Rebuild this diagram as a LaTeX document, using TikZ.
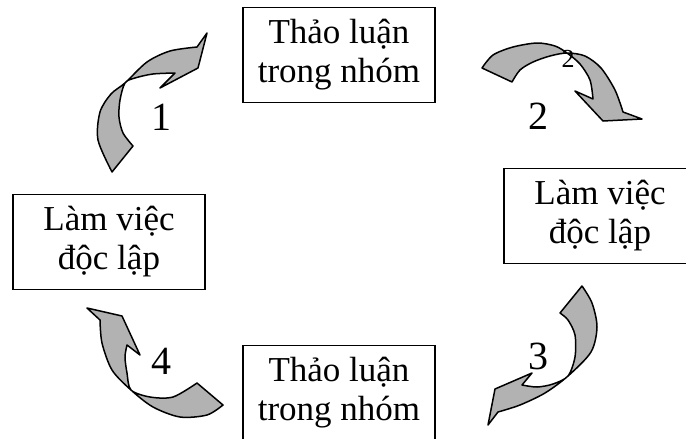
\documentclass[tikz,border=0pt]{standalone}
\usepackage{fontspec}
\setmainfont{Liberation Serif}
\begin{document}
\begin{tikzpicture}[x=1pt,y=-1pt,
  hop/.style={draw, line width=1.5pt, minimum width=192pt, minimum height=95pt, inner sep=0pt, align=center, font=\fontsize{35}{39}\selectfont},
  so/.style={inner sep=0pt, font=\fontsize{40}{40}\selectfont},
  cong/.style={fill=black!30, draw=black, line width=1.5pt, line join=round}]

\useasboundingbox (0,0) rectangle (686,439);

\node [hop] (nhom1) at (339,55) {Thảo luận\\trong nhóm};
\node [hop] (doclap1) at (600,216) {Làm việc\\độc lập};
\node [hop] (nhom2) at (339,393) {Thảo luận\\trong nhóm};
\node [hop] (doclap2) at (109,242) {Làm việc\\độc lập};

\filldraw[cong] plot[smooth] coordinates {(112,172) (98,140) (100,112) (111,94) (125,83) (147,62) (170,51) (197,47)}
  -- (207,33) -- (198,68) -- (160,88) -- (175,73)
  -- plot[smooth] coordinates {(175,73) (153,74) (135,78) (125,83) (120,100) (119,117) (123,133) (133,146)} -- cycle;
\filldraw[cong] plot[smooth] coordinates {(482,68) (493,55) (513,47) (537,43) (555,46) (567,53) (580,64) (590,80) (593,99)}
  -- (575,91) -- (603,121) -- (642,119)
  -- plot[smooth] coordinates {(623,112) (615,90) (601,68) (585,56) (567,53) (550,56) (533,62) (520,70) (512,82)} -- cycle;
\filldraw[cong] plot[smooth] coordinates {(582,286) (592,303) (597,327) (591,352) (568,376) (545,393) (520,405) (498,412)}
  -- (488,425) -- (495,389) -- (532,373) -- (522,385)
  -- plot[smooth] coordinates {(522,385) (537,387) (553,384) (568,376) (575,357) (575,335) (568,320) (560,313)} -- cycle;
\filldraw[cong] plot[smooth] coordinates {(223,405) (207,415) (180,417) (153,407) (131,390) (112,370) (102,343) (100,320)}
  -- (87,308) -- (122,316) -- (140,355) -- (127,345)
  -- plot[smooth] coordinates {(127,345) (125,357) (127,373) (131,390) (150,397) (173,397) (197,383)} -- cycle;

\node [so] (buoc1) at (161,117) {1};
\node [so] (buoc2) at (538,116) {2};
\node [so, font=\fontsize{26}{26}\selectfont] (buoc2b) at (568,59) {2};
\node [so] (buoc3) at (538,356) {3};
\node [so] (buoc4) at (161,361) {4};
\end{tikzpicture}
\end{document}
